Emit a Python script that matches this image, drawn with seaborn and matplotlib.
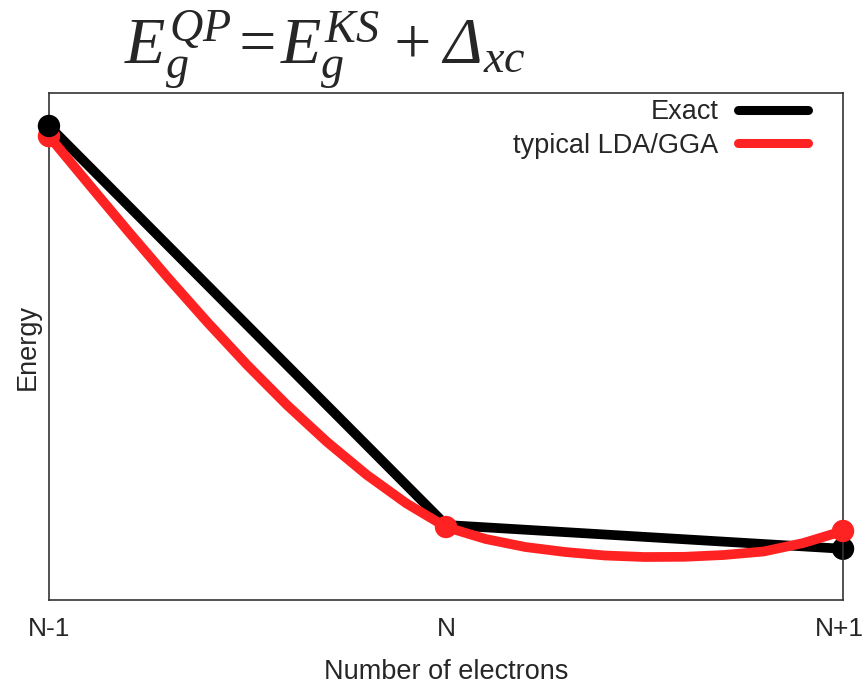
import numpy as np
import pandas as pd
import matplotlib
matplotlib.use("Agg")
import matplotlib.pyplot as plt
import matplotlib.transforms as mtransforms
import seaborn as sns

# Electron count axis
count_labels = ["N-1", "N", "N+1"]
count_offsets = [-1.0, 0.0, 1.0]

# Exact total energy: straight segments between integer electron numbers
exact_energy = [0.935, 0.148, 0.101]

# Typical LDA/GGA total energy: smooth convex curve between the integers
lda_offset = [-1.0, -0.9, -0.8, -0.7, -0.6, -0.5, -0.4, -0.3, -0.2, -0.1, 0.0,
              0.1, 0.2, 0.3, 0.4, 0.5, 0.6, 0.7, 0.8, 0.9, 1.0]
lda_energy = [0.915, 0.8205, 0.7268, 0.6353, 0.5471, 0.4629, 0.3842, 0.3120, 0.2471, 0.1907, 0.144,
              0.1203, 0.1045, 0.0947, 0.0878, 0.0848, 0.0852, 0.0888, 0.0957, 0.1124, 0.1361]
lda_integer_energy = [0.915, 0.144, 0.1361]

sns.set_style("white")
plt.rcParams["font.family"] = ["Liberation Sans", "DejaVu Sans"]
plt.rcParams["mathtext.fontset"] = "custom"
plt.rcParams["mathtext.rm"] = "Liberation Serif:italic"
plt.rcParams["mathtext.it"] = "Liberation Serif:italic"
plt.rcParams["mathtext.bf"] = "Liberation Serif:bold:italic"

exact_df = pd.DataFrame({"n": count_offsets, "E": exact_energy})
lda_df = pd.DataFrame({"n": lda_offset, "E": lda_energy})
lda_pts = pd.DataFrame({"n": count_offsets, "E": lda_integer_energy})

fig = plt.figure(figsize=(8.65, 6.84), dpi=100)
ax = fig.add_axes([0.0566, 0.1228, 0.9180, 0.7412])

black = "#000000"
red = "#ff2222"

sns.lineplot(data=exact_df, x="n", y="E", sort=False, color=black, lw=7,
             label="Exact", ax=ax, zorder=2, clip_on=False)
sns.lineplot(data=lda_df, x="n", y="E", sort=False, color=red, lw=7,
             label="typical LDA/GGA", ax=ax, zorder=3, clip_on=False)
for ln in ax.get_lines():
    ln.set_solid_joinstyle("round")

# Points at integer electron numbers
sns.scatterplot(data=exact_df.iloc[[2]], x="n", y="E", color=black, s=260,
                edgecolor="none", ax=ax, zorder=2.5, clip_on=False, legend=False)
sns.scatterplot(data=lda_pts, x="n", y="E", color=red, s=260,
                edgecolor="none", ax=ax, zorder=3.5, clip_on=False, legend=False)
sns.scatterplot(data=exact_df.iloc[[0]], x="n", y="E", color=black, s=260,
                edgecolor="none", ax=ax, zorder=4, clip_on=False, legend=False)

ax.set_xlim(-1, 1)
ax.set_ylim(0, 1)
ax.set_xticks(count_offsets, count_labels)
ax.set_yticks([])
ax.tick_params(axis="x", direction="in", length=8, width=1, color="#333333",
               pad=12, labelsize=19)
# keep the rightmost tick label inside the canvas
last = ax.get_xticklabels()[-1]
last.set_transform(last.get_transform() +
                   mtransforms.ScaledTranslation(-4 / 100, 0, fig.dpi_scale_trans))
ax.set_xlabel("Number of electrons", fontsize=19.5, labelpad=13)
ax.set_ylabel("Energy", fontsize=19.5, labelpad=6)

for sp in ax.spines.values():
    sp.set_visible(True)
    sp.set_color("#333333")
    sp.set_linewidth(1.2)

leg = ax.legend(loc="upper right", bbox_to_anchor=(0.956, 0.988), frameon=False,
                markerfirst=False, fontsize=19.5, handlelength=2.6, handletextpad=0.7,
                labelspacing=0.28, borderaxespad=0, borderpad=0)
for h in leg.get_lines():
    h.set_linewidth(6.5)

fig.text(0.376, 0.906, r"$E_g^{QP}\!=\!E_g^{KS}+\Delta_{xc}$",
         fontsize=47.5, ha="center", va="baseline")

fig.savefig("out.png", dpi=100)
